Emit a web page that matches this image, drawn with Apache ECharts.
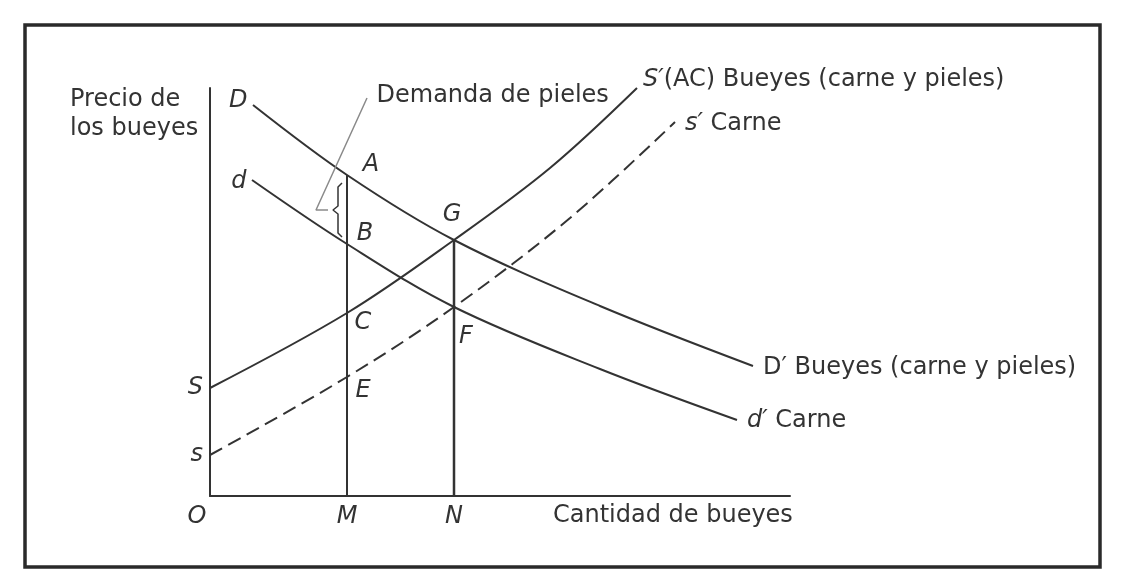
<!DOCTYPE html>
<html><head><meta charset="utf-8">
<script src="https://cdn.jsdelivr.net/npm/echarts@6/dist/echarts.min.js"></script>
<style>html,body{margin:0;padding:0;background:#fff}#c{width:1135px;height:588px}</style>
</head><body><div id="c"></div>
<script>
// ---- data (abstract units) ----
const xTickValues = [0, 137, 244];
const xTickNames = ['O', 'M', 'N'];
const yTickValues = [41, 108];
const yTickNames = ['s', 'S'];

// D - D' Bueyes (carne y pieles)
const demandBX = [43, 137, 244, 390, 543];
const demandBY = [391, 321, 256, 190, 130];
// d - d' Carne
const demandMX = [42, 137, 244, 390, 527];
const demandMY = [316, 252, 189, 127, 76];
// S - S'(AC) Bueyes (carne y pieles)
const supplyBX = [0, 137, 244, 340, 427];
const supplyBY = [108, 183, 256, 328, 408];
// s - s' Carne
const supplyMX = [0, 137, 244, 360, 465];
const supplyMY = [41, 119, 189, 278, 374];

const pointNames = ['A', 'B', 'C', 'E', 'F', 'G'];
const pointX = [137, 137, 137, 137, 244, 244];
const pointY = [321, 252, 183, 119, 189, 256];

const leaderTop = [157, 398];

// ---- styles ----
const INK = '#333';
const TXT = '#333';
const FONT = 'DejaVu Sans';
const FS = 24;
const labelOffsets = { A: [24, -10], B: [18, -10], C: [16, 10], E: [16, 14], F: [12, 30], G: [-2, -25] };
const italic = { fontStyle: 'italic', fontFamily: FONT, fontSize: FS, color: TXT };

const zip = (xs, ys) => xs.map((x, i) => [x, ys[i]]);
const P = n => { const i = pointNames.indexOf(n); return [pointX[i], pointY[i]]; };
const hiddenSymbol = { symbol: 'circle', symbolSize: 1, showSymbol: true, itemStyle: { color: 'transparent', opacity: 1 } };

function curve(xs, ys, endText, endOpts, startText, startOffset, dashed) {
  const data = zip(xs, ys).map(v => ({ value: v }));
  if (startText) {
    data[0].label = { show: true, position: 'left', distance: 5, offset: startOffset, formatter: startText, ...italic };
  }
  return {
    type: 'line', data, smooth: 0.35, ...hiddenSymbol, clip: false,
    lineStyle: { color: INK, width: 2, type: dashed ? [14, 7] : 'solid' },
    label: { show: false },
    endLabel: Object.assign({
      show: true, formatter: endText, fontFamily: FONT, fontSize: FS, color: TXT,
      rich: { i: { ...italic } }
    }, endOpts)
  };
}

const pA = P('A'), pB = P('B'), pG = P('G');
const braceX = pA[0] - 9, braceTop = pA[1] - 8, braceBottom = pB[1] + 7, braceMid = (braceTop + braceBottom) / 2;
const brace = [[braceX + 4, braceTop], [braceX, braceTop - 4], [braceX, braceMid + 4], [braceX - 5, braceMid],
  [braceX, braceMid - 4], [braceX, braceBottom + 4], [braceX + 4, braceBottom]];
const leader = [[braceX - 10, braceMid], [braceX - 22, braceMid], leaderTop];

const chart = echarts.init(document.getElementById('c'), null, { renderer: 'canvas' });
chart.setOption({
  animation: false,
  backgroundColor: '#fff',
  grid: { left: 210, top: 88, width: 580, height: 408 },
  xAxis: {
    type: 'value', min: 0, max: 580,
    axisLine: { show: true, lineStyle: { color: INK, width: 2 } },
    axisTick: { show: false }, splitLine: { show: false },
    axisLabel: {
      customValues: xTickValues, margin: 9,
      formatter: v => { const n = xTickNames[xTickValues.indexOf(v)]; return n === 'O' ? '{o|O}' : n; },
      ...italic, rich: { o: { ...italic, padding: [0, 26, 0, 0] } }
    }
  },
  yAxis: {
    type: 'value', min: 0, max: 408,
    axisLine: { show: true, lineStyle: { color: INK, width: 2 } },
    axisTick: { show: false }, splitLine: { show: false },
    axisLabel: {
      customValues: yTickValues, margin: 7,
      formatter: v => yTickNames[yTickValues.indexOf(v)], ...italic
    }
  },
  graphic: [
    { type: 'rect', shape: { x: 25, y: 25, width: 1075, height: 542 }, style: { fill: 'none', stroke: '#2a2a2a', lineWidth: 3.5 } },
    { type: 'text', style: { x: 70, y: 85, text: 'Precio de\nlos bueyes', font: FS + 'px ' + FONT, fill: TXT, lineHeight: 29 } },
    { type: 'text', style: { x: 553, y: 516, text: 'Cantidad de bueyes', font: FS + 'px ' + FONT, fill: TXT, verticalAlign: 'middle' } }
  ],
  series: [
    curve(demandBX, demandBY, 'D′ Bueyes (carne y pieles)', { distance: 10, offset: [0, 2] }, 'D', [0, -4]),
    curve(demandMX, demandMY, '{i|d′} Carne', { distance: 10, offset: [0, 1] }, 'd', [0, 2]),
    curve(supplyBX, supplyBY, '{i|S′}(AC) Bueyes (carne y pieles)', { distance: 6, offset: [0, -8] }),
    curve(supplyMX, supplyMY, '{i|s′} Carne', { distance: 10, offset: [0, 2] }, null, null, true),
    { type: 'line', data: [[pA[0], 0], pA], symbol: 'none', lineStyle: { color: INK, width: 2 } },
    { type: 'line', data: [[pG[0], 0], pG], symbol: 'none', lineStyle: { color: INK, width: 2.5 } },
    { type: 'line', data: brace, symbol: 'none', lineStyle: { color: INK, width: 1.5 } },
    {
      type: 'line', ...hiddenSymbol, lineStyle: { color: '#8a8a8a', width: 1.5 },
      data: leader.map((v, i) => i === leader.length - 1
        ? { value: v, label: { show: true, position: 'right', distance: 9, offset: [0, -2], formatter: 'Demanda de pieles', fontFamily: FONT, fontSize: FS, color: TXT } }
        : { value: v })
    },
    {
      type: 'scatter', symbolSize: 1, itemStyle: { color: 'transparent', opacity: 1 },
      data: pointNames.map((n, i) => ({ value: [pointX[i], pointY[i]], name: n })),
      label: {
        show: true, position: 'inside', formatter: p => p.name, ...italic
      },
      labelLayout: p => ({ dx: labelOffsets[pointNames[p.dataIndex]][0], dy: labelOffsets[pointNames[p.dataIndex]][1] })
    }
  ]
});
</script></body></html>
